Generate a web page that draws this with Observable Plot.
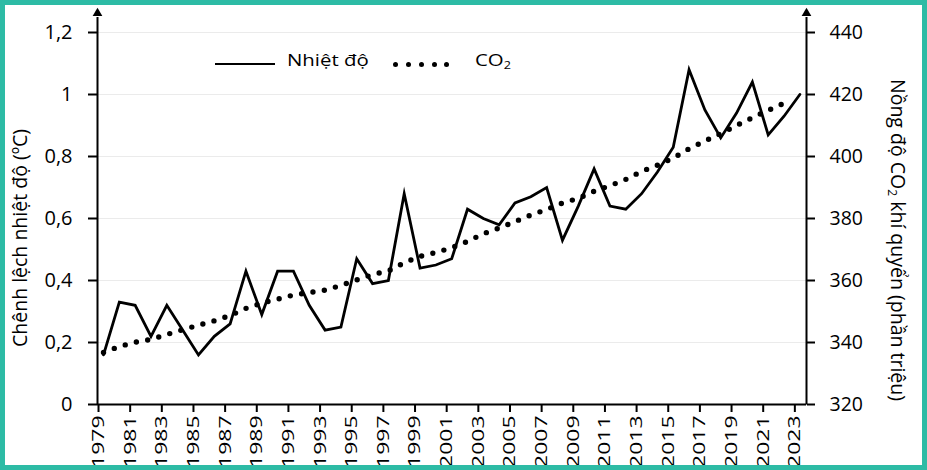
<!DOCTYPE html>
<html>
<head>
<meta charset="utf-8">
<script src="https://cdn.jsdelivr.net/npm/d3@7"></script>
<script src="https://cdn.jsdelivr.net/npm/@observablehq/plot@0.6"></script>
<style>
html, body { margin: 0; padding: 0; background: #fff; }
#wrap { position: relative; width: 927px; height: 470px; overflow: hidden; font-family: "Open Sans", sans-serif; color: #000; background: #fff; }
#chart { position: absolute; left: 0; top: 0; }
#border { position: absolute; left: 0; top: 0; width: 927px; height: 470px; box-sizing: border-box; border: 5px solid #2dbba5; pointer-events: none; }
.title { position: absolute; white-space: nowrap; font-size: 19.5px; line-height: 1; }
.legtext { position: absolute; white-space: nowrap; font-size: 17px; line-height: 17px; transform: scaleX(1.2); transform-origin: left center; }
.legline { position: absolute; background: #000; }
.legdot { position: absolute; width: 5px; height: 5px; border-radius: 50%; background: #000; }
sub { font-size: 0.62em; vertical-align: -0.25em; line-height: 0; }
</style>
</head>
<body>
<div id="wrap">
  <div id="chart"></div>
  <div class="title" style="left:20px; top:238px; transform: translate(-50%,-50%) rotate(-90deg);">Chênh lệch nhiệt độ (ºC)</div>
  <div class="title" style="left:898px; top:240px; transform: translate(-50%,-50%) rotate(90deg);">Nồng độ CO<sub>2</sub> khí quyển (phần triệu)</div>
  <div class="legline" style="left:215px; top:62.7px; width:60px; height:2.6px;"></div>
  <div class="legtext" style="left:287px; top:51px;">Nhiệt độ</div>
  <div class="legdot" style="left:392.5px; top:61.8px;"></div>
  <div class="legdot" style="left:405.8px; top:61.8px;"></div>
  <div class="legdot" style="left:419.2px; top:61.8px;"></div>
  <div class="legdot" style="left:431.8px; top:61.8px;"></div>
  <div class="legdot" style="left:444.2px; top:61.8px;"></div>
  <div class="legtext" style="left:475px; top:51px;">CO<sub>2</sub></div>
  <div id="border"></div>
</div>
<script>
// ---- Data ----
const years = [1979,1980,1981,1982,1983,1984,1985,1986,1987,1988,1989,1990,1991,1992,1993,1994,1995,1996,1997,1998,1999,2000,2001,2002,2003,2004,2005,2006,2007,2008,2009,2010,2011,2012,2013,2014,2015,2016,2017,2018,2019,2020,2021,2022,2023];
const tempValues = [0.16,0.33,0.32,0.22,0.32,0.24,0.16,0.22,0.26,0.43,0.29,0.43,0.43,0.32,0.24,0.25,0.47,0.39,0.40,0.68,0.44,0.45,0.47,0.63,0.60,0.58,0.65,0.67,0.70,0.53,0.64,0.76,0.64,0.63,0.68,0.75,0.83,1.08,0.95,0.86,0.94,1.04,0.87,0.93,1.00];

const co2Years = [1979,1980,1981,1982,1983,1984,1985,1986,1987,1988,1989,1990,1991,1992,1993,1994,1995,1996,1997,1998,1999,2000,2001,2002,2003,2004,2005,2006,2007,2008,2009,2010,2011,2012,2013,2014,2015,2016,2017,2018,2019,2020,2021,2022];
const co2Values = [336.8,338.7,340.1,341.0,342.6,344.1,345.6,347.0,348.7,351.0,352.7,354.0,355.3,356.1,356.9,358.4,360.2,361.9,363.1,365.7,367.8,369.0,370.6,372.6,375.1,376.9,379.0,381.1,382.9,385.0,386.5,388.8,390.6,392.6,395.2,397.2,399.5,402.5,405.0,407.4,410.0,412.5,414.9,417.2];

const xTicks = [1979,1981,1983,1985,1987,1989,1991,1993,1995,1997,1999,2001,2003,2005,2007,2009,2011,2013,2015,2017,2019,2021,2023];
const yTicks = [0, 0.2, 0.4, 0.6, 0.8, 1, 1.2];
const yTickLabels = ["0", "0,2", "0,4", "0,6", "0,8", "1", "1,2"];
const co2Ticks = [320, 340, 360, 380, 400, 420, 440];
const co2TickLabels = ["320", "340", "360", "380", "400", "420", "440"];

// ---- Build ----
const temp = years.map((y, i) => ({year: y, value: tempValues[i]}));
const co2 = co2Years.map((y, i) => ({year: y, value: co2Values[i]}));
const c2y = d3.scaleLinear().domain([320, 440]).range([0, 1.2]);
const co2TickPos = co2Ticks.map(c2y);
const xDomain = [1978.62, 2023.42];

const chart = Plot.plot({
  width: 927,
  height: 470,
  marginLeft: 97,
  marginRight: 121,
  marginTop: 32,
  marginBottom: 66,
  x: {domain: xDomain},
  y: {domain: [0, 1.2]},
  style: {fontFamily: "'Open Sans', sans-serif", color: "#000", background: "transparent", overflow: "visible"},
  marks: [
    Plot.gridY(yTicks.slice(1), {stroke: "#000", strokeOpacity: 0.08, strokeWidth: 1}),
    Plot.axisY(yTicks, {anchor: "left", tickSize: 9, tickPadding: 16, strokeWidth: 2, fontSize: 20, label: null,
      tickFormat: d => yTickLabels[yTicks.indexOf(d)]}),
    Plot.axisY(co2TickPos, {anchor: "right", tickSize: 8, tickPadding: 15, strokeWidth: 2, fontSize: 19.5, label: null,
      tickFormat: d => co2TickLabels[co2TickPos.indexOf(d)]}),
    Plot.axisX(xTicks, {anchor: "bottom", tickSize: 8, tickPadding: 3, tickRotate: -90, fontSize: 17, strokeWidth: 2, dx: -5, label: null,
      tickFormat: d => String(d)}),
    Plot.ruleY([0], {strokeWidth: 2}),
    Plot.link(xDomain, {x1: d => d, x2: d => d, y1: () => 0, y2: () => 1.25, strokeWidth: 2}),
    Plot.dot(xDomain, {x: d => d, y: () => 1.262, symbol: "triangle", r: 3.6, fill: "#000", stroke: null}),
    Plot.line(co2, {x: "year", y: d => c2y(d.value), strokeDasharray: "0 11.5", strokeLinecap: "round", strokeWidth: 5.4}),
    Plot.line(temp, {x: "year", y: "value", strokeWidth: 2.8, strokeLinejoin: "miter", strokeMiterlimit: 10})
  ]
});
document.getElementById("chart").appendChild(chart);

// stretch the rotated year labels along their reading direction
chart.querySelectorAll('g[aria-label="x-axis tick label"] text').forEach(t => {
  const tr = t.getAttribute("transform");
  if (tr && tr.includes("rotate")) t.setAttribute("transform", tr + " scale(1.35,1)");
});
</script>
</body>
</html>
